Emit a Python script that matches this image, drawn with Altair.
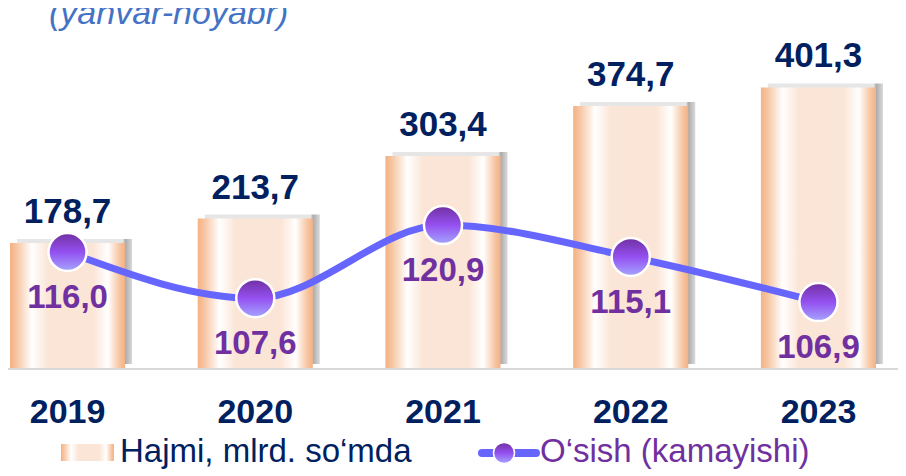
import altair as alt
import pandas as pd

# ---- data ----
years = ["2019", "2020", "2021", "2022", "2023"]
volume = [178.7, 213.7, 303.4, 374.7, 401.3]      # Hajmi, mlrd. so'mda
growth = [116.0, 107.6, 120.9, 115.1, 106.9]      # O'sish (kamayishi), %

title_text = "(yanvar-noyabr)"
legend_bar = "Hajmi, mlrd. so\u2018mda"
legend_line = "O\u2018sish (kamayishi)"

df = pd.DataFrame({"year": years, "volume": volume, "growth": growth})

FONT = "Liberation Sans"
NAVY = "#002060"
PURPLE = "#7030A0"
LINE = "#6666FF"

bar_grad = alt.LinearGradient(
    gradient="linear", x1=0, y1=0, x2=1, y2=0,
    stops=[
        alt.GradientStop(color="#F4B183", offset=0),
        alt.GradientStop(color="#F7C6A3", offset=0.06),
        alt.GradientStop(color="#FFFFFF", offset=0.19),
        alt.GradientStop(color="#FBE5D6", offset=0.33),
        alt.GradientStop(color="#FBE5D6", offset=0.72),
        alt.GradientStop(color="#FFFFFF", offset=0.85),
        alt.GradientStop(color="#F7C6A3", offset=0.95),
        alt.GradientStop(color="#F4B183", offset=1),
    ],
)
shadow_grad = alt.LinearGradient(
    gradient="linear", x1=0, y1=0, x2=1, y2=0,
    stops=[
        alt.GradientStop(color="#E6E6E6", offset=0),
        alt.GradientStop(color="#E6E6E6", offset=0.92),
        alt.GradientStop(color="#ABABAB", offset=0.94),
        alt.GradientStop(color="#DADADA", offset=1),
    ],
)
pt_grad = alt.LinearGradient(
    gradient="linear", x1=0, y1=0, x2=0, y2=1,
    stops=[
        alt.GradientStop(color="#7030A0", offset=0),
        alt.GradientStop(color="#9450F0", offset=0.5),
        alt.GradientStop(color="#A5A5FF", offset=1),
    ],
)

base = alt.Chart(df).transform_calculate(
    vlbl="replace(format(datum.volume, '.1f'), '.', ',')",
    glbl="replace(format(datum.growth, '.1f'), '.', ',')",
).encode(
    x=alt.X(
        "year:N", sort=years,
        scale=alt.Scale(paddingInner=0.387, paddingOuter=0),
        axis=alt.Axis(
            title=None, labelFont=FONT, labelFontSize=34, labelFontWeight="bold",
            labelColor=NAVY, labelAngle=0, ticks=False, tickSize=0,
            labelPadding=54, labelBaseline="alphabetic", domain=False,
        ),
    )
)

ybar = alt.Y("volume:Q", scale=alt.Scale(domain=[0, 515]), axis=None)
yg = alt.Y("growth:Q", scale=alt.Scale(domain=[94.91, 160.36]), axis=None)

one = pd.DataFrame({"k": [0]})
baseline_rule = alt.Chart(one).mark_rule(color="#D9D9D9", strokeWidth=2).encode(
    x=alt.value(-2), x2=alt.value(890), y=alt.value(361)
)

shadow = base.mark_bar(fill=shadow_grad, xOffset=7, yOffset=-4).encode(y=ybar)
bars = base.mark_bar(fill=bar_grad).encode(y=ybar)
bar_labels = base.mark_text(
    font=FONT, fontSize=35, fontWeight="bold", color=NAVY,
    dy=-20, baseline="alphabetic",
).encode(y=ybar, text="vlbl:N")
bar_layer = alt.layer(shadow, bars, bar_labels)

line = base.mark_line(color=LINE, strokeWidth=7, interpolate="monotone").encode(y=yg)
points = base.mark_point(
    shape="circle", filled=True, size=1450, fill=pt_grad,
    stroke="white", strokeWidth=2.5, opacity=1,
).encode(y=yg)
g_labels = base.mark_text(
    font=FONT, fontSize=33, fontWeight="bold", color=PURPLE,
    dy=56, baseline="alphabetic",
).encode(y=yg, text="glbl:N")
line_layer = alt.layer(line, points, g_labels)

title = alt.Chart(one).mark_text(
    text=title_text, font=FONT, fontSize=34, fontStyle="italic",
    color="#4472C4", align="left", baseline="alphabetic",
).encode(x=alt.value(39), y=alt.value(16))

LY = 454  # legend text baseline (svg px)
leg_rect = alt.Chart(one).mark_rect(fill=bar_grad).encode(
    x=alt.value(51), x2=alt.value(104), y=alt.value(LY - 18), y2=alt.value(LY - 1)
)
leg_text1 = alt.Chart(one).mark_text(
    text=legend_bar, font=FONT, fontSize=33, color=NAVY,
    align="left", baseline="alphabetic",
).encode(x=alt.value(110), y=alt.value(LY))
leg_rule = alt.Chart(one).mark_rule(color=LINE, strokeWidth=8, strokeCap="round").encode(
    x=alt.value(472), x2=alt.value(526), y=alt.value(LY - 9)
)
leg_pt = alt.Chart(one).mark_point(
    shape="circle", filled=True, size=440, fill=pt_grad,
    stroke="white", strokeWidth=1.5, opacity=1,
).encode(x=alt.value(494), y=alt.value(LY - 9))
leg_text2 = alt.Chart(one).mark_text(
    text=legend_line, font=FONT, fontSize=33, color=PURPLE,
    align="left", baseline="alphabetic",
).encode(x=alt.value(530), y=alt.value(LY))

chart = alt.layer(
    baseline_rule, bar_layer, line_layer, title,
    leg_rect, leg_text1, leg_rule, leg_pt, leg_text2
).resolve_scale(y="independent").properties(
    width=866, height=360,
    padding={"left": 2, "top": 0, "right": 22, "bottom": 108},
    autosize=alt.AutoSizeParams(type="none"),
).configure_view(stroke=None)

chart.save("out.html", embed_options={"renderer": "svg", "actions": False})
